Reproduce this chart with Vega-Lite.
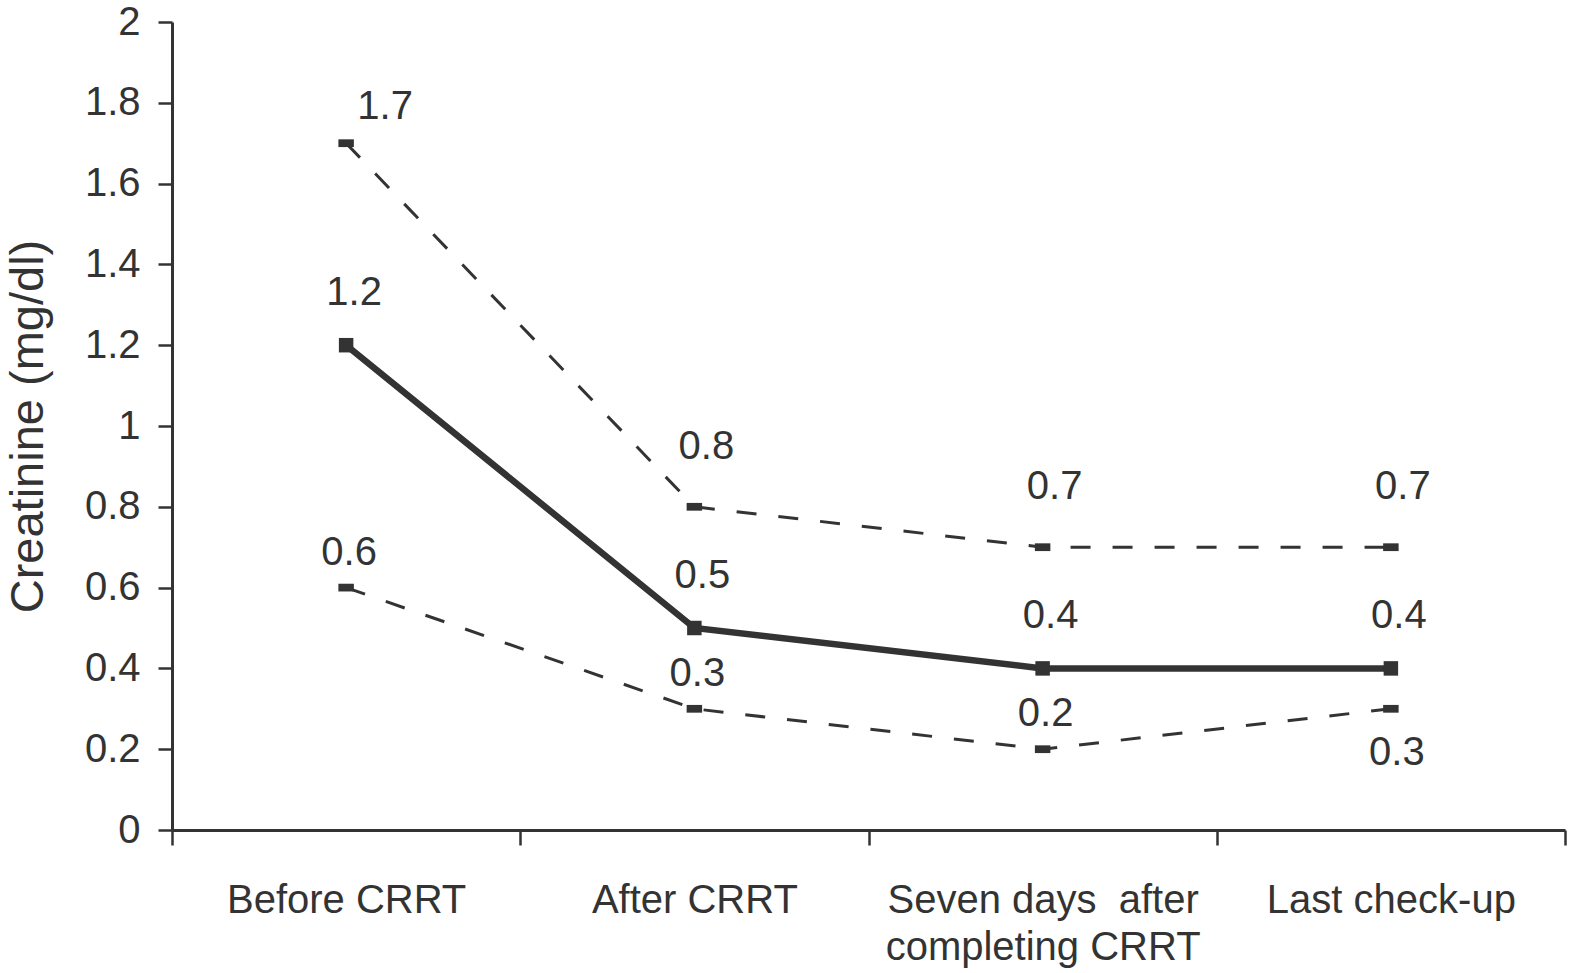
{
  "$schema": "https://vega.github.io/schema/vega-lite/v6.json",
  "width": 1393,
  "height": 808,
  "autosize": {"type": "none"},
  "padding": {"left": 172, "top": 22, "right": 7, "bottom": 143},
  "background": "white",
  "config": {
    "view": {"stroke": null},
    "font": "Liberation Sans",
    "axis": {"grid": false, "domainColor": "#333", "tickColor": "#333", "labelColor": "#333", "titleColor": "#333", "labelFont": "Liberation Sans", "titleFont": "Liberation Sans"}
  },
  "data": {
    "values": [
      {"time": "Before CRRT", "series": "Mean", "value": 1.2},
      {"time": "After CRRT", "series": "Mean", "value": 0.5},
      {"time": "Seven days  after completing CRRT", "series": "Mean", "value": 0.4},
      {"time": "Last check-up", "series": "Mean", "value": 0.4},
      {"time": "Before CRRT", "series": "Upper", "value": 1.7},
      {"time": "After CRRT", "series": "Upper", "value": 0.8},
      {"time": "Seven days  after completing CRRT", "series": "Upper", "value": 0.7},
      {"time": "Last check-up", "series": "Upper", "value": 0.7},
      {"time": "Before CRRT", "series": "Lower", "value": 0.6},
      {"time": "After CRRT", "series": "Lower", "value": 0.3},
      {"time": "Seven days  after completing CRRT", "series": "Lower", "value": 0.2},
      {"time": "Last check-up", "series": "Lower", "value": 0.3}
    ]
  },
  "encoding": {
    "x": {
      "field": "time",
      "type": "nominal",
      "bandPosition": 0.5,
      "sort": ["Before CRRT", "After CRRT", "Seven days  after completing CRRT", "Last check-up"],
      "scale": {"type": "band", "paddingInner": 0, "paddingOuter": 0},
      "axis": {
        "title": null,
        "labelAngle": 0,
        "labelFontSize": 40,
        "labelPadding": 35,
        "labelLineHeight": 47,
        "labelBaseline": "top",
        "labelLimit": 0,
        "tickBand": "extent",
        "tickSize": 15,
        "tickWidth": 2.5,
        "domainWidth": 3,
        "labelExpr": "datum.value == 'Seven days  after completing CRRT' ? ['Seven days\u00a0 after', 'completing CRRT'] : datum.label"
      }
    },
    "y": {
      "field": "value",
      "type": "quantitative",
      "scale": {"domain": [0, 2], "nice": false, "zero": true},
      "axis": {
        "title": "Creatinine (mg/dl)",
        "titleFontSize": 47,
        "titleFontWeight": "normal",
        "titlePadding": 32,
        "values": [0, 0.2, 0.4, 0.6, 0.8, 1, 1.2, 1.4, 1.6, 1.8, 2],
        "format": ".1~f",
        "labelFontSize": 40,
        "labelPadding": 18,
        "tickSize": 14,
        "tickWidth": 2.5,
        "domainWidth": 3
      }
    }
  },
  "layer": [
    {
      "transform": [{"filter": "datum.series != 'Mean'"}],
      "mark": {"type": "line", "color": "#333", "strokeWidth": 3, "strokeDash": [20, 22]},
      "encoding": {"detail": {"field": "series"}}
    },
    {
      "transform": [{"filter": "datum.series == 'Mean'"}],
      "mark": {"type": "line", "color": "#333", "strokeWidth": 6.5},
      "encoding": {}
    },
    {
      "transform": [{"filter": "datum.series == 'Mean'"}],
      "mark": {"type": "point", "shape": "square", "filled": true, "color": "#333", "size": 210, "opacity": 1},
      "encoding": {}
    },
    {
      "transform": [{"filter": "datum.series != 'Mean'"}],
      "mark": {"type": "point", "shape": "M-1,-0.5H1V0.5H-1Z", "filled": true, "color": "#333", "size": 240, "opacity": 1},
      "encoding": {}
    },
    {
      "transform": [{"filter": "datum.series == 'Upper' && datum.time == 'Before CRRT'"}],
      "mark": {"type": "text", "fontSize": 40, "color": "#333", "baseline": "middle", "align": "center", "dx": 39, "dy": -36},
      "encoding": {"text": {"field": "value", "type": "quantitative", "format": ".1f"}}
    },
    {
      "transform": [{"filter": "datum.series == 'Upper' && datum.time != 'Before CRRT'"}],
      "mark": {"type": "text", "fontSize": 40, "color": "#333", "baseline": "middle", "align": "center", "dx": 12, "dy": -60},
      "encoding": {"text": {"field": "value", "type": "quantitative", "format": ".1f"}}
    },
    {
      "transform": [{"filter": "datum.series == 'Mean'"}],
      "mark": {"type": "text", "fontSize": 40, "color": "#333", "baseline": "middle", "align": "center", "dx": 8, "dy": -52},
      "encoding": {"text": {"field": "value", "type": "quantitative", "format": ".1f"}}
    },
    {
      "transform": [{"filter": "datum.series == 'Lower' && datum.time != 'Last check-up'"}],
      "mark": {"type": "text", "fontSize": 40, "color": "#333", "baseline": "middle", "align": "center", "dx": 3, "dy": -35},
      "encoding": {"text": {"field": "value", "type": "quantitative", "format": ".1f"}}
    },
    {
      "transform": [{"filter": "datum.series == 'Lower' && datum.time == 'Last check-up'"}],
      "mark": {"type": "text", "fontSize": 40, "color": "#333", "baseline": "middle", "align": "center", "dx": 6, "dy": 44},
      "encoding": {"text": {"field": "value", "type": "quantitative", "format": ".1f"}}
    }
  ]
}
